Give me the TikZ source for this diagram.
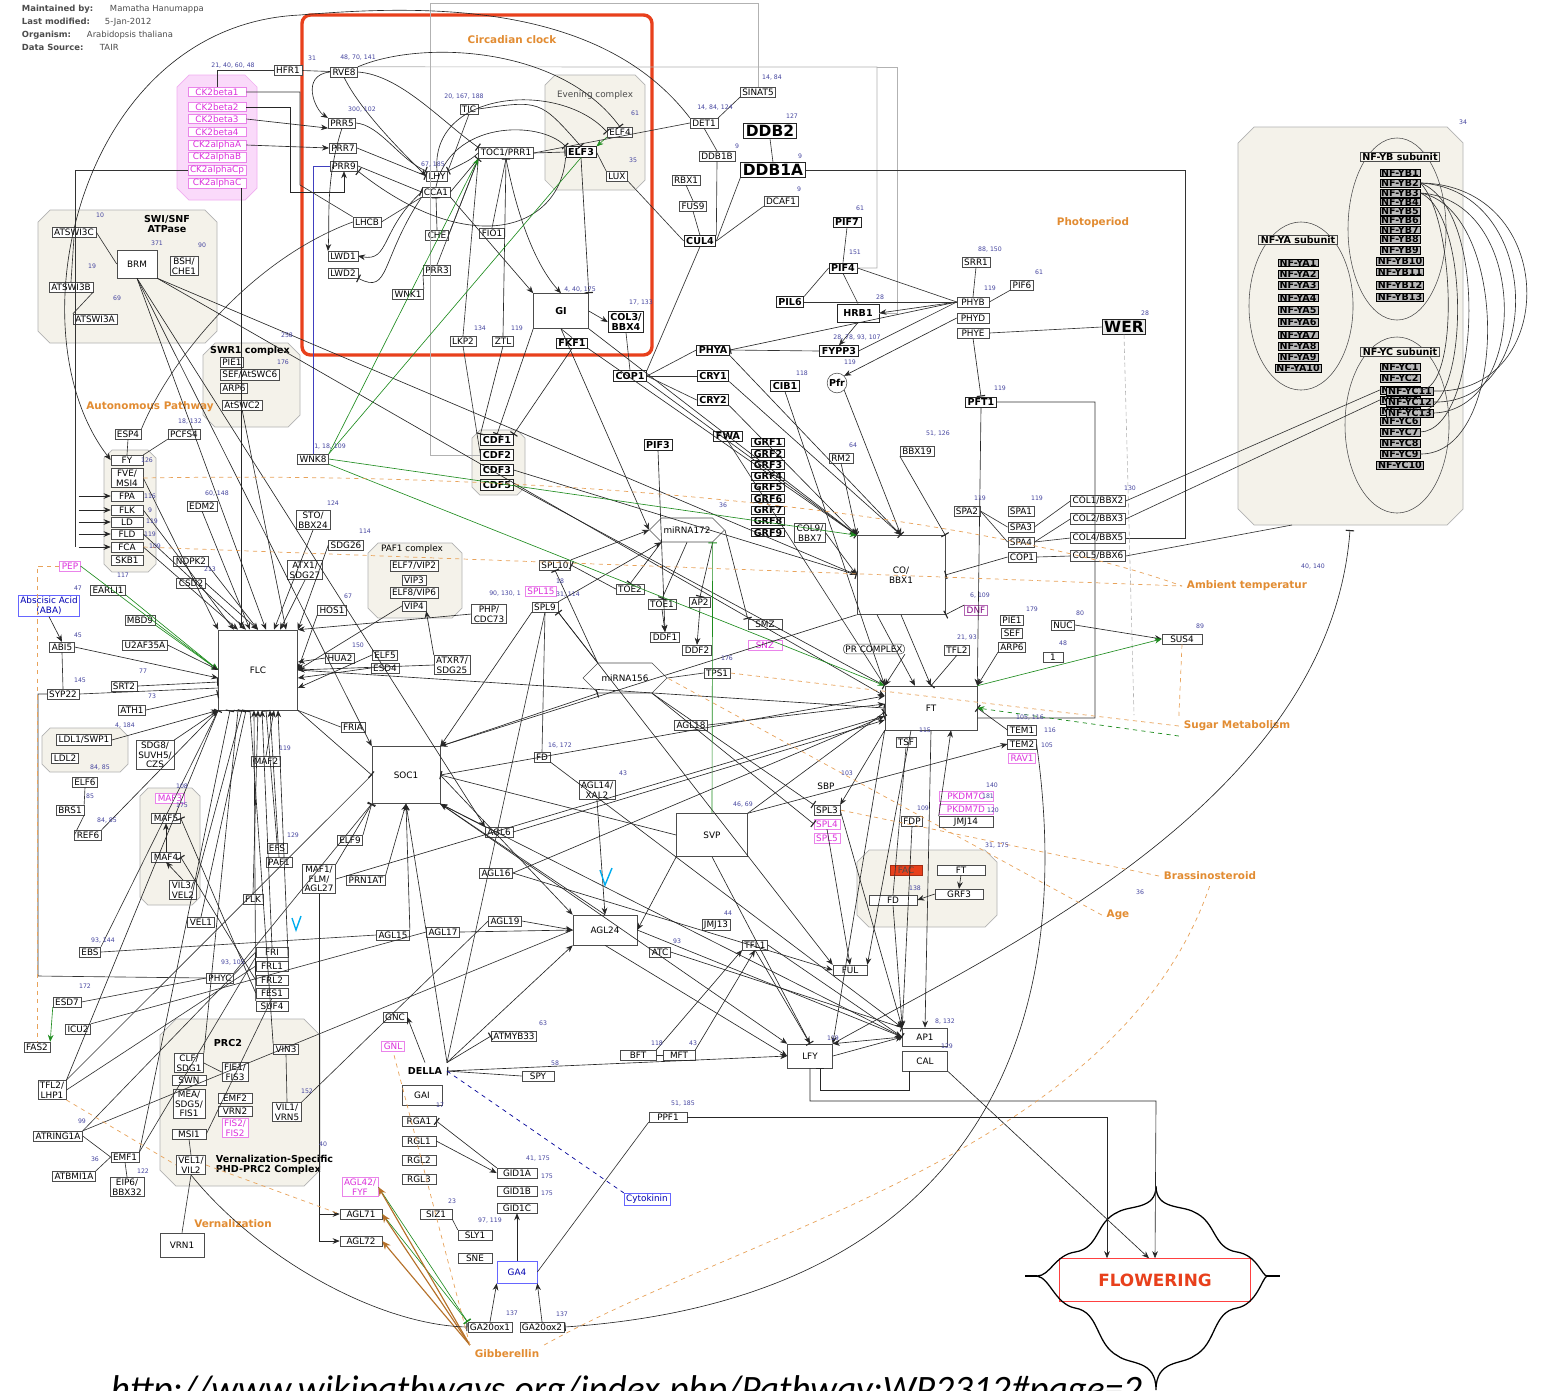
\documentclass[tikz,border=0pt]{standalone}
\usepackage{fontspec}
\setmainfont{DejaVu Sans}
\newfontfamily\urlfont{Carlito}
\usetikzlibrary{arrows.meta,shapes.geometric,shapes.symbols,shapes.misc,positioning}

\newcommand\genefont{\fontsize{6.3}{6.9}\selectfont}
\newcommand\boldgenefont{\fontsize{6.8}{7.4}\selectfont\bfseries}
\newcommand\largegenefont{\fontsize{11}{12}\selectfont\bfseries}
\newcommand\numfont{\fontsize{4.4}{5}\selectfont}
\newcommand\pathfont{\fontsize{7.4}{8}\selectfont\bfseries}

\definecolor{pathorange}{RGB}{226,140,50}
\definecolor{clockred}{RGB}{232,64,28}
\definecolor{grpfill}{RGB}{244,242,234}
\definecolor{pinktext}{RGB}{220,50,220}
\definecolor{pinkfill}{RGB}{250,218,250}
\definecolor{numblue}{RGB}{70,70,160}
\definecolor{darkgreen}{RGB}{30,140,30}

\tikzset{
  gene/.style={draw=black!70, fill=white, font=\genefont, align=center, inner xsep=1.5pt, inner ysep=1.1pt, line width=0.4pt},
  bgene/.style={gene, font=\boldgenefont, draw=black!85, line width=0.6pt},
  lgene/.style={gene, font=\largegenefont, draw=black!85, line width=0.6pt},
  pgene/.style={gene, draw=pinktext!60, text=pinktext},
  bugene/.style={gene, draw=blue!60, text=blue!70!black},
  nfy/.style={draw=black, fill=gray!55, font=\boldgenefont, inner xsep=1pt, inner ysep=0.2pt},
  num/.style={font=\numfont, text=numblue, inner sep=0pt},
  pathlbl/.style={font=\pathfont, text=pathorange},
  grptitle/.style={font=\boldgenefont, align=center},
  grp/.style={draw=gray!60, fill=grpfill, line width=0.5pt},
  act/.style={-{Stealth[length=5pt,width=4pt]}, black!85, line width=0.45pt},
  inh/.style={-{Bar[width=6pt,line width=0.8pt]}, black!85, line width=0.45pt},
  ln/.style={black!80, line width=0.45pt},
  gln/.style={gray!60, line width=0.5pt},
  gact/.style={act, darkgreen},
  ginh/.style={inh, darkgreen},
  gline/.style={darkgreen, line width=0.45pt},
  od/.style={pathorange!80, dashed, line width=0.5pt},
  oact/.style={-{Stealth[length=6pt,width=5pt]}, pathorange!80!black, line width=0.8pt},
  gdash/.style={-{Stealth[length=5pt,width=4pt]}, darkgreen, dashed, line width=0.5pt},
  bdash/.style={blue!60!black, dashed, line width=0.5pt},
}

\begin{document}
\begin{tikzpicture}[x=0.025cm, y=-0.025cm]
\useasboundingbox (0,0) rectangle (1562,1390);
\fill[white] (0,0) rectangle (1562,1390);

% group backgrounds
\draw[grp, fill=pinkfill, draw=pinktext!40] (189,75) -- (245,75) -- (257,87) -- (257,188) -- (245,200) -- (189,200) -- (177,188) -- (177,87) -- cycle;
\draw[grp] (50,210) -- (205,210) -- (217,222) -- (217,331) -- (205,343) -- (50,343) -- (38,331) -- (38,222) -- cycle;
\draw[grp] (215,343) -- (288,343) -- (300,355) -- (300,415) -- (288,427) -- (215,427) -- (203,415) -- (203,355) -- cycle;
\draw[grp] (112,450) -- (148,450) -- (156,458) -- (156,564) -- (148,572) -- (112,572) -- (104,564) -- (104,458) -- cycle;
\draw[grp] (555,75) -- (635,75) -- (645,85) -- (645,180) -- (635,190) -- (555,190) -- (545,180) -- (545,85) -- cycle;
\draw[grp] (480,430) -- (517,430) -- (525,438) -- (525,487) -- (517,495) -- (480,495) -- (472,487) -- (472,438) -- cycle;
\draw[grp] (378,543) -- (452,543) -- (462,553) -- (462,608) -- (452,618) -- (378,618) -- (368,608) -- (368,553) -- cycle;
\draw[grp] (1254,127) -- (1447,127) -- (1463,143) -- (1463,509) -- (1447,525) -- (1254,525) -- (1238,509) -- (1238,143) -- cycle;
\draw[grp] (176,1019) -- (304,1019) -- (320,1035) -- (320,1170) -- (304,1186) -- (176,1186) -- (160,1170) -- (160,1035) -- cycle;
\draw[grp] (869,850) -- (985,850) -- (997,862) -- (997,915) -- (985,927) -- (869,927) -- (857,915) -- (857,862) -- cycle;
\draw[grp] (148,788) -- (192,788) -- (200,796) -- (200,897) -- (192,905) -- (148,905) -- (140,897) -- (140,796) -- cycle;
\draw[grp] (50,728) -- (120,728) -- (128,736) -- (128,764) -- (120,772) -- (50,772) -- (42,764) -- (42,736) -- cycle;

\draw[clockred, line width=2.4pt, rounded corners=6pt] (302,15) rectangle (652,355);

% header
\node[anchor=west, font=\fontsize{6}{7}\selectfont, text=black!70] (hdra) at (17,9) {\makebox[2.2cm][l]{\textbf{Maintained by:}}Mamatha Hanumappa};
\node[anchor=west, font=\fontsize{6}{7}\selectfont, text=black!70] (hdrb) at (17,22) {\makebox[2.075cm][l]{\textbf{Last modified:}}5-Jan-2012};
\node[anchor=west, font=\fontsize{6}{7}\selectfont, text=black!70] (hdrc) at (17,35) {\makebox[1.625cm][l]{\textbf{Organism:}}Arabidopsis thaliana};
\node[anchor=west, font=\fontsize{6}{7}\selectfont, text=black!70] (hdrd) at (17,47) {\makebox[1.95cm][l]{\textbf{Data Source:}}TAIR};

% pathway labels
\node[pathlbl] (lblclock) at (512,40) {Circadian clock};
\node[pathlbl] (lblphoto) at (1093,223) {Photoperiod};
\node[pathlbl] (lblauto) at (150,407) {Autonomous Pathway};
\node[pathlbl, anchor=west] (lblamb) at (1182,586) {Ambient temperatur};
\node[pathlbl] (lblsugar) at (1237,726) {Sugar Metabolism};
\node[pathlbl] (lblbras) at (1210,876) {Brassinosteroid};
\node[pathlbl] (lblage) at (1118,915) {Age};
\node[pathlbl] (lblvern) at (233,1224) {Vernalization};
\node[pathlbl] (lblgib) at (507,1354) {Gibberellin};

% group titles
\node[grptitle] (tswi) at (167,224) {SWI/SNF\\ATPase};
\node[grptitle] (tswr) at (250,351) {SWR1 complex};
\node[font=\genefont, text=black!70] (teve) at (595,95) {Evening complex};
\node[font=\genefont] (tpaf) at (412,549) {PAF1 complex};
\node[grptitle] (tprc) at (228,1043) {PRC2};
\node[grptitle, align=left, anchor=west] (tvsp) at (211,1165) {Vernalization-Specific\\PHD-PRC2 Complex};
\node[font=\genefont] (tsbp) at (826,786) {SBP};

% circadian clock
\node[gene] (hfr1) at (288,70) {HFR1};
\node[gene] (rve8) at (344,72) {RVE8};
\node[gene] (prr5) at (342,123) {PRR5};
\node[gene] (prr7) at (343,148) {PRR7};
\node[gene] (prr9) at (344,166) {PRR9};
\node[gene] (lhcb) at (367,222) {LHCB};
\node[gene] (lwd1) at (343,256) {LWD1};
\node[gene] (lwd2) at (343,273) {LWD2};
\node[gene] (tic) at (469,109) {TIC};
\node[gene] (toc1) at (506,153) {TOC1/PRR1};
\node[bgene] (elf3) at (581,152) {ELF3};
\node[gene] (elf4) at (620,132) {ELF4};
\node[gene] (lux) at (617,176) {LUX};
\node[gene] (lhy) at (437,176) {LHY};
\node[gene] (cca1) at (436,192) {CCA1};
\node[gene] (che) at (437,235) {CHE};
\node[gene] (fio1) at (492,233) {FIO1};
\node[gene] (prr3) at (437,270) {PRR3};
\node[gene] (wnk1) at (408,294) {WNK1};
\node[gene, font=\boldgenefont, minimum width=1.375cm, minimum height=0.875cm] (gi) at (561,311) {GI};
\node[bgene] (col3) at (626,322) {COL3/\\BBX4};
\node[gene] (lkp2) at (463,341) {LKP2};
\node[gene] (ztl) at (503,341) {ZTL};
\node[bgene] (fkf1) at (572,343) {FKF1};
\node[bgene] (cop1) at (630,376) {COP1};

% CK2 and chromatin groups
\foreach \k/\t/\y in {b1/CK2beta1/92, b2/CK2beta2/107, b3/CK2beta3/119, b4/CK2beta4/132, aa/CK2alphaA/145, ab/CK2alphaB/157, acp/CK2alphaCp/170, ac/CK2alphaC/183}
  \node[pgene, minimum width=1.45cm, inner ysep=0.6pt] (ck2\k) at (217,\y) {\t};
\node[gene] (atswi3c) at (74,232) {ATSWI3C};
\node[gene, minimum width=1cm, minimum height=0.7cm] (brm) at (137,264) {BRM};
\node[gene] (bsh) at (184,266) {BSH/\\CHE1};
\node[gene] (atswi3b) at (71,287) {ATSWI3B};
\node[gene] (atswi3a) at (95,319) {ATSWI3A};
\node[gene, anchor=west] (pie1) at (220,362) {PIE1};
\node[gene, anchor=west] (sef) at (220,375) {SEF/AtSWC6};
\node[gene, anchor=west] (arp6) at (220,388) {ARP6};
\node[gene, anchor=west] (atswc2) at (222,405) {AtSWC2};

% autonomous pathway
\node[gene] (esp4) at (128,434) {ESP4};
\node[gene] (pcfs4) at (184,434) {PCFS4};
\node[gene] (wnk8) at (313,459) {WNK8};
\node[gene, minimum width=0.8cm] (fy) at (127,460) {FY};
\node[gene, minimum width=0.8cm] (fve) at (127,478) {FVE/\\MSI4};
\node[gene, minimum width=0.8cm] (fpa) at (127,496) {FPA};
\node[gene, minimum width=0.8cm] (flk) at (127,510) {FLK};
\node[gene, minimum width=0.8cm] (ld) at (127,522) {LD};
\node[gene, minimum width=0.8cm] (fld) at (127,534) {FLD};
\node[gene, minimum width=0.8cm] (fca) at (127,547) {FCA};
\node[gene, minimum width=0.8cm] (skb1) at (127,560) {SKB1};

% FLC regulators
\node[pgene] (pep) at (70,566) {PEP};
\node[bugene] (aba) at (49,606) {Abscisic Acid\\(ABA)};
\node[gene] (abi5) at (62,647) {ABI5};
\node[gene] (earli1) at (108,590) {EARLI1};
\node[gene] (edm2) at (202,506) {EDM2};
\node[gene] (sto) at (313,520) {STO/\\BBX24};
\node[gene] (sdg26) at (346,545) {SDG26};
\node[gene] (ndpk2) at (191,561) {NDPK2};
\node[gene] (csd2) at (191,583) {CSD2};
\node[gene] (atx1) at (305,570) {ATX1/\\SDG27};
\node[gene] (hos1) at (332,610) {HOS1};
\node[gene] (mbd9) at (140,620) {MBD9};
\node[gene] (u2af) at (145,645) {U2AF35A};
\node[gene, minimum width=1.975cm, minimum height=2cm] (flc) at (258,670) {FLC};
\node[gene] (srt2) at (124,686) {SRT2};
\node[gene] (ath1) at (132,710) {ATH1};
\node[gene] (syp22) at (63,694) {SYP22};
\node[gene] (ldl1) at (84,740) {LDL1/SWP1};
\node[gene] (ldl2) at (65,758) {LDL2};
\node[gene] (sdg8) at (155,755) {SDG8/\\SUVH5/\\CZS};
\node[gene] (elf6) at (85,782) {ELF6};
\node[gene] (brs1) at (70,810) {BRS1};
\node[gene] (ref6) at (88,835) {REF6};
\node[pgene] (maf3) at (170,798) {MAF3};
\node[gene] (maf5) at (166,818) {MAF5};
\node[gene] (maf4) at (166,857) {MAF4};
\node[gene] (vil3) at (183,890) {VIL3/\\VEL2};
\node[gene] (maf2) at (266,761) {MAF2};
\node[gene] (efs) at (277,848) {EFS};
\node[gene] (paf1) at (279,862) {PAF1};
\node[gene] (elf9) at (350,840) {ELF9};
\node[gene] (maf1) at (319,879) {MAF1/\\FLM/\\AGL27};
\node[gene] (prn1) at (366,880) {PRN1AT};
\node[gene] (flk2) at (253,899) {FLK};
\node[gene] (vel1) at (201,922) {VEL1};
\node[gene] (hua2) at (340,658) {HUA2};
\node[gene] (elf5) at (385,655) {ELF5};
\node[gene] (esd4) at (385,668) {ESD4};
\node[gene] (fria) at (353,727) {FRIA};
\node[gene] (elf7) at (414,566) {ELF7/VIP2};
\node[gene] (vip3) at (414,580) {VIP3};
\node[gene] (elf8) at (414,593) {ELF8/VIP6};
\node[gene] (vip4) at (414,606) {VIP4};
\node[gene] (atxr7) at (452,665) {ATXR7/\\SDG25};
\node[gene] (php) at (489,614) {PHP/\\CDC73};

% CDF and GRF
\node[bgene] (cdf1) at (497,440) {CDF1};
\node[bgene] (cdf2) at (497,455) {CDF2};
\node[bgene] (cdf3) at (497,470) {CDF3};
\node[bgene] (cdf5) at (497,485) {CDF5};
\foreach \i in {1,...,9}
  \node[bgene, inner ysep=0.3pt] (grf\i) at (768,{431+11.3*\i}) {GRF\i};

% light signalling
\node[gene] (det1) at (704,123) {DET1};
\node[gene] (sinat5) at (758,92) {SINAT5};
\node[gene] (ddb1b) at (717,156) {DDB1B};
\node[gene] (rbx1) at (686,180) {RBX1};
\node[gene] (fus9) at (693,206) {FUS9};
\node[bgene] (cul4) at (700,241) {CUL4};
\node[lgene] (ddb2) at (770,131) {DDB2};
\node[lgene] (ddb1a) at (773,170) {DDB1A};
\node[gene] (dcaf1) at (781,201) {DCAF1};
\node[bgene] (pif7) at (847,222) {PIF7};
\node[bgene] (pif4) at (843,268) {PIF4};
\node[bgene] (pil6) at (790,302) {PIL6};
\node[bgene, minimum width=1.05cm, minimum height=0.45cm] (hrb1) at (858,313) {HRB1};
\node[bgene] (fypp3) at (839,351) {FYPP3};
\node[gene, circle, font=\boldgenefont, inner sep=0.6pt] (pfr) at (837,383) {Pfr};
\node[bgene] (cib1) at (785,386) {CIB1};
\node[bgene] (phya) at (713,350) {PHYA};
\node[bgene] (cry1) at (713,376) {CRY1};
\node[bgene] (cry2) at (713,400) {CRY2};
\node[bgene] (fwa) at (728,436) {FWA};
\node[bgene] (pif3) at (658,445) {PIF3};
\node[gene] (srr1) at (976,262) {SRR1};
\node[gene] (pif6) at (1022,285) {PIF6};
\node[gene, minimum width=0.8cm] (phyb) at (973,302) {PHYB};
\node[gene, minimum width=0.8cm] (phyd) at (973,318) {PHYD};
\node[gene, minimum width=0.8cm] (phye) at (973,333) {PHYE};
\node[lgene, fill=gray!15] (wer) at (1124,327) {WER};
\node[bgene] (pft1) at (981,402) {PFT1};
\node[gene] (bbx19) at (917,451) {BBX19};
\node[gene] (rm2) at (841,458) {RM2};

% NF-Y
\node[draw=black!70, ellipse, minimum width=2.6cm, minimum height=4.2cm] (yaell) at (1301,306) {};
\node[draw=black!70, ellipse, minimum width=2.45cm, minimum height=4.55cm] (ybell) at (1397,229) {};
\node[draw=black!70, ellipse, minimum width=2.6cm, minimum height=4.4cm] (ycell) at (1397,425) {};
\node[gene, font=\boldgenefont, fill=grpfill, inner ysep=0.5pt] (ybt) at (1400,157) {NF-YB subunit};
\node[gene, font=\boldgenefont, fill=grpfill, inner ysep=0.5pt] (yat) at (1298,240) {NF-YA subunit};
\node[gene, font=\boldgenefont, fill=grpfill, inner ysep=0.5pt] (yct) at (1400,352) {NF-YC subunit};
\foreach \i/\y in {1/173,2/183,3/193,4/202,5/211,6/220,7/230,8/239,9/250,10/261,11/272,12/285,13/297}
  \node[nfy] (yb\i) at (1400,\y) {NF-YB\i};
\foreach \i/\y in {1/263,2/274,3/285,4/298,5/310,6/322,7/335,8/346,9/357,10/368}
  \node[nfy] (ya\i) at (1298,\y) {NF-YA\i};
\foreach \i/\y in {1/367,2/378,3/390,4/400,5/411,6/421,7/432,8/443,9/454,10/465}
  \node[nfy] (yc\i) at (1400,\y) {NF-YC\i};
\node[nfy] (yc11) at (1410,391) {NF-YC11};
\node[nfy] (yc12) at (1410,402) {NF-YC12};
\node[nfy] (yc13) at (1410,413) {NF-YC13};
\coordinate (nfybar) at (1350,530);
\coordinate (nfybl) at (1292,525);

% middle
\node[gene, signal, signal to=west and east, minimum width=1.85cm, minimum height=0.6cm] (mir172) at (687,530) {miRNA172};
\node[gene, signal, signal to=west and east, minimum width=2.1cm, minimum height=0.75cm] (mir156) at (625,678) {miRNA156};
\node[gene] (spl10) at (555,565) {SPL10};
\node[pgene] (spl15) at (541,591) {SPL15};
\node[gene] (spl9) at (545,607) {SPL9};
\node[gene] (toe2) at (630,589) {TOE2};
\node[gene] (toe1) at (662,604) {TOE1};
\node[gene] (ap2) at (700,602) {AP2};
\node[gene] (ddf1) at (665,637) {DDF1};
\node[gene] (ddf2) at (697,650) {DDF2};
\node[gene, minimum width=0.85cm] (smz) at (765,624) {SMZ};
\node[pgene, minimum width=0.85cm] (snz) at (765,645) {SNZ};
\node[gene] (tps1) at (717,673) {TPS1};
\node[gene] (agl18) at (691,725) {AGL18};
\node[gene] (fd1) at (542,757) {FD};
\node[gene] (agl14) at (597,790) {AGL14/\\XAL2};
\node[gene, minimum width=1.7cm, minimum height=1.425cm] (soc1) at (406,775) {SOC1};
\node[gene, minimum width=1.775cm, minimum height=1.075cm] (svp) at (712,835) {SVP};
\node[gene] (agl6) at (499,832) {AGL6};
\node[gene] (agl16) at (496,873) {AGL16};
\node[gene] (agl19) at (505,921) {AGL19};
\node[gene] (agl15) at (393,935) {AGL15};
\node[gene] (agl17) at (443,932) {AGL17};
\node[gene, minimum width=1.6cm, minimum height=0.75cm] (agl24) at (605,930) {AGL24};
\node[gene] (jmj13) at (716,925) {JMJ13};
\node[gene] (atc) at (660,952) {ATC};
\node[gene] (tfl1) at (755,945) {TFL1};

% CO / FT
\node[gene] (col9) at (810,533) {COL9/\\BBX7};
\node[gene, minimum width=2.2cm, minimum height=1.975cm] (co) at (901,575) {CO/\\BBX1};
\node[gene] (spa2) at (967,511) {SPA2};
\node[gene] (spa1) at (1021,511) {SPA1};
\node[gene] (spa3) at (1021,527) {SPA3};
\node[gene] (spa4) at (1021,542) {SPA4};
\node[gene] (cop1b) at (1022,557) {COP1};
\node[gene] (col1) at (1098,501) {COL1/BBX2};
\node[gene] (col2) at (1098,519) {COL2/BBX3};
\node[gene] (col4) at (1098,538) {COL4/BBX5};
\node[gene] (col5) at (1098,556) {COL5/BBX6};
\node[gene, draw=violet!60, text=violet] (dnf) at (976,610) {DNF};
\node[gene] (pie1b) at (1012,620) {PIE1};
\node[gene] (sefb) at (1012,633) {SEF};
\node[gene] (arp6b) at (1012,647) {ARP6};
\node[gene] (nuc) at (1063,625) {NUC};
\node[gene, minimum width=0.5cm] (one) at (1053,657) {1};
\node[gene, minimum width=1cm] (sus4) at (1182,639) {SUS4};
\node[gene, rounded corners=3pt] (prc) at (874,649) {PR COMPLEX};
\node[gene] (tfl2) at (957,650) {TFL2};
\node[gene, minimum width=2.3cm, minimum height=1.1cm] (ft) at (931,708) {FT};
\node[gene] (tsf) at (906,742) {TSF};
\node[gene] (tem1) at (1022,730) {TEM1};
\node[gene] (tem2) at (1022,744) {TEM2};
\node[pgene] (rav1) at (1022,758) {RAV1};
\node[gene] (spl3) at (827,810) {SPL3};
\node[pgene] (spl4) at (827,824) {SPL4};
\node[pgene] (spl5) at (827,838) {SPL5};
\node[gene] (fdp) at (912,821) {FDP};
\node[pgene, minimum width=1.35cm] (pkdm7c) at (966,796) {PKDM7C};
\node[pgene, minimum width=1.35cm] (pkdm7d) at (966,809) {PKDM7D};
\node[gene, minimum width=1.35cm] (jmj14) at (966,822) {JMJ14};
\node[gene, fill=clockred, draw=clockred!70!black, text=black!70, minimum width=0.8cm] (fac) at (906,870) {FAC};
\node[gene, minimum width=1.2cm] (ft2) at (961,870) {FT};
\node[gene, minimum width=1.2cm] (fd2) at (893,900) {FD};
\node[gene, minimum width=1.2cm] (grf3) at (959,894) {GRF3};

% bottom left
\node[gene] (ebs) at (90,952) {EBS};
\node[gene] (esd7) at (67,1002) {ESD7};
\node[gene] (icu2) at (78,1029) {ICU2};
\node[gene] (fas2) at (37,1047) {FAS2};
\node[gene] (tfl2b) at (52,1090) {TFL2/\\LHP1};
\node[gene] (atring) at (58,1136) {ATRING1A};
\node[gene] (atbmi) at (74,1176) {ATBMI1A};
\node[gene] (emf1) at (125,1157) {EMF1};
\node[gene] (eip6) at (127,1187) {EIP6/\\BBX32};
\node[gene, minimum width=0.8cm] (fri) at (272,952) {FRI};
\node[gene, minimum width=0.8cm] (frl1) at (272,966) {FRL1};
\node[gene, minimum width=0.8cm] (frl2) at (272,980) {FRL2};
\node[gene, minimum width=0.8cm] (fes1) at (272,993) {FES1};
\node[gene, minimum width=0.8cm] (suf4) at (272,1006) {SUF4};
\node[gene] (phyc) at (220,978) {PHYC};
\node[gene] (clf) at (189,1063) {CLF/\\SDG1};
\node[gene, minimum width=0.85cm] (swn) at (189,1080) {SWN};
\node[gene] (mea) at (189,1104) {MEA/\\SDG5/\\FIS1};
\node[gene, minimum width=0.85cm] (msi1) at (189,1134) {MSI1};
\node[gene] (fie) at (235,1072) {FIE1/\\FIS3};
\node[gene, minimum width=0.85cm] (emf2) at (235,1098) {EMF2};
\node[gene, minimum width=0.85cm] (vrn2) at (235,1111) {VRN2};
\node[pgene] (fis2) at (235,1128) {FIS2/\\FIS2};
\node[gene] (vin3) at (286,1049) {VIN3};
\node[gene] (vil1) at (287,1112) {VIL1/\\VRN5};
\node[gene] (vel1b) at (191,1165) {VEL1/\\VIL2};
\node[gene, minimum width=1.1cm, minimum height=0.6cm] (vrn1) at (182,1245) {VRN1};
\node[pgene] (agl42) at (360,1187) {AGL42/\\FYF};
\node[gene, minimum width=1.05cm] (agl71) at (361,1214) {AGL71};
\node[gene, minimum width=1.05cm] (agl72) at (361,1241) {AGL72};

% gibberellin
\node[gene] (gnc) at (395,1017) {GNC};
\node[pgene] (gnl) at (393,1046) {GNL};
\node[font=\boldgenefont] (della) at (425,1071) {DELLA};
\node[gene, minimum width=1cm, minimum height=0.5cm] (gai) at (422,1095) {GAI};
\node[gene, minimum width=0.85cm] (rga1) at (419,1121) {RGA1};
\node[gene, minimum width=0.85cm] (rgl1) at (419,1141) {RGL1};
\node[gene, minimum width=0.85cm] (rgl2) at (419,1160) {RGL2};
\node[gene, minimum width=0.85cm] (rgl3) at (419,1179) {RGL3};
\node[gene] (atmyb33) at (514,1036) {ATMYB33};
\node[gene, minimum width=0.8cm] (spy) at (538,1076) {SPY};
\node[gene, minimum width=0.9cm] (bft) at (638,1055) {BFT};
\node[gene, minimum width=0.8cm] (mft) at (679,1055) {MFT};
\node[gene, minimum width=0.95cm] (ppf1) at (668,1117) {PPF1};
\node[gene, minimum width=0.8cm] (siz1) at (436,1214) {SIZ1};
\node[gene, minimum width=1cm] (gid1a) at (517,1173) {GID1A};
\node[gene, minimum width=1cm] (gid1b) at (517,1191) {GID1B};
\node[gene, minimum width=1cm] (gid1c) at (517,1208) {GID1C};
\node[gene, minimum width=0.85cm] (sly1) at (475,1235) {SLY1};
\node[gene, minimum width=0.85cm] (sne) at (475,1258) {SNE};
\node[bugene, minimum width=1cm, minimum height=0.55cm] (ga4) at (517,1272) {GA4};
\node[gene] (ga20ox1) at (490,1327) {GA20ox1};
\node[gene] (ga20ox2) at (542,1327) {GA20ox2};
\node[bugene] (cytokinin) at (647,1199) {Cytokinin};

% floral meristem
\node[gene, minimum width=0.85cm] (ful) at (850,970) {FUL};
\node[gene, minimum width=1.125cm, minimum height=0.45cm] (ap1) at (925,1037) {AP1};
\node[gene, minimum width=1.125cm, minimum height=0.5cm] (cal) at (925,1061) {CAL};
\node[gene, minimum width=1.125cm, minimum height=0.6cm] (lfy) at (810,1056) {LFY};
\node[draw=red!75, font=\fontsize{12}{13}\selectfont\bfseries, text=clockred, minimum width=4.775cm, minimum height=1.075cm] (flowering) at (1155,1280) {FLOWERING};
\draw[black, line width=0.9pt]
 (1156,1186) .. controls (1156,1210) and (1130,1205) .. (1118,1212) .. controls (1095,1222) and (1100,1248) .. (1075,1252) .. controls (1055,1255) and (1050,1276) .. (1037,1276)
 .. controls (1050,1278) and (1055,1304) .. (1075,1308) .. controls (1100,1312) and (1095,1344) .. (1118,1356) .. controls (1130,1365) and (1156,1359) .. (1156,1390)
 (1156,1390) .. controls (1156,1359) and (1182,1365) .. (1194,1356) .. controls (1217,1344) and (1212,1312) .. (1237,1308) .. controls (1257,1304) and (1262,1278) .. (1267,1276)
 .. controls (1262,1276) and (1257,1255) .. (1237,1252) .. controls (1212,1248) and (1217,1222) .. (1194,1212) .. controls (1182,1205) and (1156,1210) .. (1156,1186);
\draw[black, line width=0.9pt] (1025,1276) -- (1037,1276) (1267,1276) -- (1280,1276);

% grey frame lines
\draw[gln] (cdf2.west) -| (430,3) -| (sinat5.north);
\draw[gln] (rve8.north east) -- (877,67) |- (pif4.east);
\draw[gln] (hrb1.east) -| (897,67) -- (877,67);
\draw[ln] (ddb1a.east) -- (1185,170) |- (col4.east);
\draw[ln] (pft1.east) -| (1095,718) -- ([yshift=-0.25cm]ft.east);
\draw[gray!60, densely dashed] (wer.south) -- (1134,715);
\draw[blue!50!gray, line width=0.5pt] (prr9.west) -| (wnk8.north);
\draw[ln] (syp22.west) -| (38,976) -- (phyc.west);
\draw[ln] (ck2acp.west) -- (75,170) -- (75,547);

% circadian edges
\draw[ln] (hfr1) -- (rve8);
\draw[ln] (ck2b1.north) |- (hfr1.west);
\draw[act] (rve8.west) .. controls (300,75) and (315,110) .. (prr5.north west);
\draw[inh] (rve8.east) .. controls (400,75) and (440,120) .. (toc1.north west);
\draw[inh] (rve8.north east) .. controls (420,40) and (560,45) .. (elf4.north);
\draw[act] (rve8.south) .. controls (360,110) and (400,150) .. (lhy.west);
\draw[inh] (prr5.east) .. controls (380,125) and (400,160) .. (lhy.north west);
\draw[inh] (prr7.east) -- (lhy.west);
\draw[inh] (prr9.east) -- (cca1.west);
\draw[inh] (cca1.east) -- (toc1.south west);
\draw[inh] (toc1.west) .. controls (470,160) .. (lhy.north east);
\draw[inh] (lhy.north) .. controls (430,90) and (560,80) .. (elf4.west);
\draw[inh] (cca1.north) .. controls (450,120) and (540,120) .. (elf3.north west);
\draw[inh] (toc1.east) -- (elf3.west);
\draw[gact] (elf4.south west) -- (elf3.north east);
\draw[ln] (elf3.east) -- (lux.north west);
\draw[inh] (elf3.south) -- (gi.north east);
\draw[inh] (elf3.south west) .. controls (560,230) and (470,260) .. (prr9.south east);
\draw[act] (cca1.south east) -- (gi.north west);
\draw[act] (toc1.south) .. controls (520,230) and (540,270) .. (gi.north);
\draw[inh] (ztl.north) -- (toc1.south);
\draw[ln] (lkp2.north) -- (toc1.south west);
\draw[inh] (che.north) -- (cca1.south);
\draw[ln] (che.east) -- (toc1.south west);
\draw[act] (prr5.south) .. controls (325,180) and (330,220) .. (lwd1.north west);
\draw[inh] (cca1.south west) .. controls (380,260) and (390,295) .. (lwd2.south east);
\draw[act] (cca1.west) .. controls (380,230) and (390,262) .. (lwd1.east);
\draw[ln] (lhcb.east) -- (cca1.south west);
\draw[ln] (prr3.north) -- (toc1.south west);
\draw[ln] (wnk1.north east) -- (prr3.south west);
\draw[ln] (fio1.north) -- (toc1.south);
\draw[ln] (tic.south) -- (lhy.north east);
\draw[inh] (tic.east) .. controls (540,100) .. (elf3.north);
\draw[act] (gi.east) -- (col3.west);
\draw[ln] (gi.south) -- (fkf1.north);
\draw[act] (ck2b2.east) -| (290,192) -| (prr9.south);
\draw[act] (ck2aa.east) -- (prr7.west);
\draw[act] (ck2b3.east) -- (prr5.south west);
\draw[ln] (ck2b1.east) -| (300,185) -- (lhcb.north west);
\draw[act] (ck2ac.south) ++(24,0) -- ++(0,440);
\draw[act] (det1.north west) .. controls (600,0) and (420,5) .. (300,15) .. controls (80,25) and (10,330) .. (fy.west);
\draw[ln] (lhcb.west) .. controls (250,260) and (170,360) .. (esp4.north east);

% photoperiod edges
\draw[inh] (fkf1.south) -- (cdf1.north east);
\draw[inh] (gi.south west) -- (cdf1.north);
\draw[inh] (ztl.south) -- (cdf1.north west);
\draw[ln] (lkp2.south) -- (cdf2.west);
\draw[act] (fkf1.south east) -- (co.north west);
\draw[act] (gi.south east) -- (co.north west);
\draw[ln] (col3.south) -- (cop1.north);
\draw[inh] (cop1.south east) -- (co.north west);
\draw[inh] (cdf3.east) -- (co.west);
\draw[inh] (cdf5.east) -- (ft.north west);
\draw[act] (gi.south) -- (mir172.west);
\draw[inh] (phya.south east) -- (co.north);
\draw[act] (cry1.south east) -- (co.north);
\draw[act] (cry2.south east) -- (co.north west);
\draw[ln] (fwa.south) -- (ft.north west);
\draw[inh] (phyb.west) -- (phya.east);
\draw[ln] (cop1.east) -- (cry1.west);
\draw[ln] (cop1.east) -- (cry2.west);
\draw[ln] (cop1.east) -- (phya.west);
\draw[act] (pif3.south) -- (ddf1.north);
\draw[ln] (pif7.south) -- (pif4.north);
\draw[ln] (pif4.west) -- (pil6.north east);
\draw[ln] (pif4.south) -- (hrb1.north);
\draw[ln] (pif4.east) -- (phyb.west);
\draw[act] (phyb.west) -- (hrb1.east);
\draw[ln] (phyb.west) -- (pil6.east);
\draw[act] (phyd.west) -- (pfr.north east);
\draw[ln] (phyb.west) -- (fypp3.east);
\draw[act] (hrb1.south) -- (fypp3.north);
\draw[ln] (srr1.south) -- (phyb.north);
\draw[ln] (pif6.south west) -- (phyb.east);
\draw[ln] (phye.east) -- (wer.west);
\draw[inh] (phye.south) -- (pft1.north);
\draw[act] (pft1.south) -- (ft.north east);
\draw[ln] (phya.east) -- (fypp3.west);
\draw[act] (cib1.south) -- (ft.north west);
\draw[act] (pfr.south east) -- (co.north);
\draw[act] (rm2.south) -- (co.north west);
\draw[inh] (bbx19.south west) -- (co.north east);
\draw[ln] (sinat5.south west) -- (det1.north east);
\draw[ln] (det1.south) -- (ddb1b.north);
\draw[ln] (ddb1b.south) -- (cul4.north east);
\draw[ln] (rbx1.south) -- (fus9.north);
\draw[ln] (fus9.south) -- (cul4.north);
\draw[ln] (ddb1a.south west) -- (cul4.east);
\draw[ln] (dcaf1.south west) -- (cul4.east);
\draw[ln] (ddb2.south) -- (ddb1a.north);
\draw[ln] (det1.west) -- (toc1.east);
\draw[ln] (cul4.south) -- (cop1.north east);
\draw[ln] (cul4.west) -- (lux.south east);

% CO / FT edges
\draw[act] (col9.east) -- (co.west);
\draw[inh] (cop1b.west) -- (co.east);
\draw[ln] (spa2.east) -- (spa3.west);
\draw[ln] (spa2.east) -- (spa4.west);
\draw[ln] (col1.west) -- (spa3.east);
\draw[ln] (col2.west) -- (spa4.east);
\draw[ln] (col4.west) -- (spa4.east);
\draw[ln] (col5.west) -- (cop1b.east);
\draw[act] (co.south) -- (ft.north);
\draw[act] ([xshift=-0.6cm]co.south) -- ([xshift=-0.4cm]ft.north);
\draw[act] (co.south west) -- (soc1.north east);
\draw[inh] (dnf.north west) -- (co.south east);
\draw[act] (arp6b.south west) -- (ft.north east);
\draw[act] (nuc.east) -- (sus4.west);
\draw[gact] (ft.north east) -- (sus4.west);
\draw[act] (prc.south east) -- (ft.north west);
\draw[inh] (tfl2.south) -- (ft.north);
\draw[inh] (tem1.west) -- (ft.east);
\draw[act] (svp.north east) -- (tem2.west);
\draw[act] (ft.south west) -- (spl3.north east);
\draw[act] (ft.south) -- (ap1.north);
\draw[act] ([xshift=-0.5cm]ft.south) -- (ful.north east);
\draw[act] (ft.south west) -- (lfy.north east);
\draw[act] (fdp.south) -- (ap1.north west);
\draw[act] (jmj14.north west) -- ([xshift=0.5cm]ft.south);
\draw[ln] (tsf.south) -- (fd2.north);
\draw[act] (ft2.south) -- (grf3.north);
\draw[act] (grf3.west) -- (fd2.east);
\draw[act] (fd2.south) -- (ap1.north west);
\draw[act] (spl3.east) -- (ap1.north west);
\draw[act] (spl4.south) -- (ful.north);
\draw[ln] (yc3.west) -- (col1.east);
\draw[ln] (yc4.west) -- (col2.east);
\draw[ln] (col5.east) -- (nfybl);
\draw[ln] (yb2.east) .. controls (1560,185) and (1560,395) .. (yc11.east);
\draw[ln] (yb2.east) .. controls (1545,190) and (1545,405) .. (yc12.east);
\draw[ln] (yb3.east) .. controls (1530,200) and (1530,410) .. (yc13.east);
\draw[ln] (yb3.east) .. controls (1510,210) and (1510,455) .. (yc9.east);
\draw[ln] (yb2.east) .. controls (1490,210) and (1480,430) .. (yc7.east);
\draw[ln] (yb3.east) .. controls (1470,215) and (1470,410) .. (yc5.east);
\draw[ln] (yb2.east) .. controls (1455,220) and (1460,390) .. (yc3.east);
\draw[inh] (lfy.north east) .. controls (1000,950) and (1330,800) .. (nfybar);
\draw[inh] (tem2.east) .. controls (1080,1050) and (960,1300) .. (ga20ox2.east);

% miRNA edges
\draw[inh] (mir172.south west) -- (toe2.north);
\draw[inh] (mir172.south) -- (toe1.north);
\draw[inh] (mir172.south east) -- (ap2.north);
\draw[inh] (mir172.east) -- (smz.north west);
\draw[act] (spl9.north east) -- (mir172.south west);
\draw[act] (spl10.north east) -- (mir172.west);
\draw[act] (ap2.south) -- (ddf2.north);
\draw[act] (toe1.south) -- (ddf1.north);
\draw[inh] (soc1.north east) -- (mir156.south west);
\draw[inh] (mir156.north west) -- (spl10.south);
\draw[inh] (mir156.north west) -- (spl9.south east);
\draw[inh] (mir156.south east) -- (spl3.north west);
\draw[inh] (mir156.south east) -- (spl4.west);
\draw[ln] (tps1.west) -- (mir156.east);
\draw[inh] (toe2.west) -- (spl10.east);
\draw[ln] (spl9.south) -- (fd1.north);
\draw[act] (spl9.south west) -- (soc1.north east);
\draw[act] (spl9.south east) -- (ful.north west);
\draw[act] (php.west) -- (flc.north east);
\draw[act] (atxr7.west) -- (flc.east);
\draw[act] (vip4.west) -- (flc.east);
\draw[act] (atxr7.north west) -- (vip4.south east);

% FLC edges
\foreach \n in {fpa,flk,ld,fld,fca} \draw[act] (\n.west) ++(-32,0) -- (\n.west);
\draw[act] (fve.east) -- (flc.north west);
\draw[act] (fca.east) -- ([xshift=-0.5cm]flc.north);
\draw[act] (fld.east) -- ([xshift=-0.3cm]flc.north);
\draw[act] (flk.east) -- ([xshift=-0.6cm]flc.north);
\draw[act] (edm2.south) -- ([xshift=-0.2cm]flc.north);
\draw[act] (ndpk2.south east) -- (flc.north);
\draw[act] (csd2.east) -- (flc.north);
\draw[act] (sto.south) -- ([xshift=0.4cm]flc.north);
\draw[act] (atx1.south) -- ([xshift=0.55cm]flc.north);
\draw[act] (brm.south) -- ([xshift=0.2cm]flc.north);
\draw[act] (brm.south) -- (soc1.north west);
\draw[act] (brm.south) -- (agl6.north west);
\draw[act] (brm.south east) -- (co.west);
\draw[act] (brm.south east) -- ([yshift=0.3cm]ft.west);
\draw[ln] (atswi3c.east) -- (brm.west);
\draw[ln] (atswi3c.south) -- (atswi3b.north);
\draw[ln] (atswi3b.south east) -- (atswi3a.north west);
\draw[act] (atswc2.south) -- ([xshift=0.7cm]flc.north);
\draw[ln] (esp4.south) -- (fy.north);
\draw[ln] (pcfs4.south west) -- (fy.north east);
\draw[act] (sdg26.west) -- (flc.north east);
\draw[act] (hos1.south west) -- (flc.east);
\draw[act] (hua2.west) -- ([yshift=0.2cm]flc.east);
\draw[act] (esd4.west) -- ([yshift=-0.2cm]flc.east);
\draw[act] (elf5.west) -- ([yshift=-0.45cm]flc.east);
\draw[ln] (fria.west) -- (flc.south east);
\draw[gact] (earli1.south east) -- (flc.west);
\draw[gact] (mbd9.south east) -- (flc.west);
\draw[gact] (pep.east) -- (flc.west);
\draw[act] (u2af.east) -- (flc.west);
\draw[act] (abi5.east) -- ([yshift=-0.2cm]flc.west);
\draw[act] (aba.south) -- (abi5.north);
\draw[inh] (srt2.east) -- ([yshift=-0.3cm]flc.west);
\draw[inh] (ath1.east) -- ([yshift=-0.6cm]flc.west);
\draw[ln] (syp22.east) -- ([yshift=-0.45cm]flc.west);
\draw[act] (ldl1.east) -- (flc.south west);
\draw[act] (sdg8.north east) -- (flc.south west);
\draw[act] (ref6.north east) -- (flc.south west);
\draw[ln] (elf6.south) -- (brs1.north east);
\draw[ln] (brs1.south east) -- (ref6.west);
\draw[ln] (abi5.south) -- (syp22.north);
\draw[act] (maf2.north) -- ([xshift=0.4cm]flc.south);
\draw[inh] (efs.north) -- ([xshift=0.2cm]flc.south);
\draw[act] (paf1.north) -- ([xshift=0.3cm]flc.south);
\draw[act] (flk2.north) -- (flc.south);
\draw[inh] (vel1.north) -- ([xshift=-0.3cm]flc.south);
\draw[inh] (vil3.north east) -- ([xshift=-0.4cm]flc.south);
\draw[act] (fri.north) -- ([xshift=0.1cm]flc.south);
\draw[act] (frl1.north east) -- ([xshift=0.5cm]flc.south);
\draw[act] (suf4.north west) -- ([xshift=-0.1cm]flc.south);
\draw[inh] (vin3.north west) -- ([xshift=-0.2cm]flc.south);
\draw[inh] (clf.north east) -- ([xshift=-0.5cm]flc.south);
\draw[inh] (emf1.north east) -- ([xshift=-0.7cm]flc.south);
\draw[inh] (tfl2b.north east) -- (flc.south west);
\draw[act] (maf4.north) -- (maf5.south);
\draw[act] (vil3.north) -- (maf4.south);
\draw[inh] (frl2.west) -- (maf4.east);
\draw[inh] (fes1.west) -- (maf5.east);
\draw[inh] (flc.east) -- (ft.west);
\draw[inh] (flc.south east) -- (soc1.west);
\draw[inh] (maf1.north east) -- (soc1.south west);
\draw[inh] (maf1.east) -- ([yshift=-0.2cm]ft.west);
\draw[inh] (elf9.north east) -- (soc1.south west);
\draw[act] (prn1.north east) -- (soc1.south);

% SOC1 / AGL24 / meristem edges
\draw[act] (soc1.east) -- (agl24.north west);
\draw[act] (agl24.north) -- (soc1.south east);
\draw[act] (soc1.south east) -- (lfy.north west);
\draw[act] (soc1.east) -- ([yshift=0.3cm]ft.west);
\draw[inh] (svp.west) -- (soc1.east);
\draw[inh] (svp.north east) -- ([yshift=-0.1cm]ft.west);
\draw[act] (svp.south west) -- (agl24.east);
\draw[ginh] (svp.north) -- (mir172.south east);
\draw[act] (agl6.north west) -- (soc1.south east);
\draw[act] (agl19.east) -- (agl24.west);
\draw[act] (agl17.east) -- (agl24.west);
\draw[act] (agl15.north east) -- (soc1.south);
\draw[act] (agl16.east) -- ([yshift=-0.2cm]ft.west);
\draw[act] (agl6.east) -- ([yshift=-0.3cm]ft.west);
\draw[act] (agl18.east) -- ([yshift=0.1cm]ft.west);
\draw[act] (agl14.south) -- (agl24.north);
\draw[act] (agl24.south) -- (lfy.west);
\draw[act] (agl24.east) -- (ap1.west);
\draw[act] (svp.south) -- (lfy.north);
\draw[inh] (tfl1.east) -- (ap1.west);
\draw[inh] (tfl1.south) -- (lfy.north);
\draw[inh] (atc.east) -- (ap1.north west);
\draw[act] (bft.north east) -- (tfl1.south west);
\draw[act] (mft.north east) -- (tfl1.south);
\draw[ln] (bft.east) -- (mft.west);
\draw[act] (della.east) -- (lfy.west);
\draw[inh] (spy.west) -- (della.east);
\draw[inh] (della.north east) -- (atmyb33.west);
\draw[act] (della.north east) -- (soc1.south);
\draw[act] (della.north east) -- (agl24.south west);
\draw[act] (della.north) -- (gnc.east);
\draw[ln] (della.north east) -- (spl9.south);
\draw[bdash] (della.east) -- (cytokinin.north west);
\draw[act] (rgl1.east) -- (gid1a.west);
\draw[inh] (gid1a.north west) -- (rga1.east);
\draw[act] (ga4.north) -- (gid1c.south);
\draw[act] (ga20ox1.north) -- (ga4.south west);
\draw[act] (ga20ox2.north) -- (ga4.south east);
\draw[ln] (ppf1.south west) -- (ga4.east);
\draw[ln] (sly1.north west) -- (siz1.south east);
\draw[ginh] (agl42.east) -- (ga20ox1.north west);
\draw[ginh] (agl71.east) -- (ga20ox1.north west);
\foreach \n in {agl42,agl71,agl72} \draw[oact] (lblgib.north west) -- (\n.east);
\draw[act] (maf1.south) |- (agl71.west);
\draw[act] (maf1.south) |- (agl72.west);
\draw[inh] (vel1b.south) .. controls (260,1260) and (380,1325) .. (ga20ox1.west);
\draw[act] (soc1.south east) -- (ap1.west);
\draw[act] (agl16.east) -- (ful.west);
\draw[act] (fd1.south east) -- (ap1.north west);
\draw[act] (lfy.east) -- (ap1.west);
\draw[act] (ap1.west) -- (lfy.north east);

% flowering
\draw[act] (lfy.south) |- (1156,1101) -- (flowering.north);
\draw[act] (ppf1.east) -| ([xshift=-1.2cm]flowering.north);
\draw[act] (cal.south east) -- ([xshift=-0.15cm]flowering.north);
\draw[inh] ([xshift=-0.4cm]cal.south) |- ([xshift=0.25cm,yshift=-0.55cm]lfy.south) -- ([xshift=0.25cm]lfy.south);

% bottom-left edges
\draw[gact] (esd7.south west) -- (fas2.north east);
\draw[ln] (fie.west) -- (clf.east);
\draw[ln] (msi1.south) -- (vel1b.north);
\draw[ln] (vin3.south) -- (vil1.north);
\draw[ln] (vel1b.south) -- (vrn1.north);
\draw[ln] (emf1.south) -- (eip6.north);
\draw[ln] (atring.east) -- (emf1.west);
\draw[ln] (atbmi.north east) -- (emf1.west);
\draw[ln] (atring.north east) -- (fri.west);
\draw[ln] (emf1.north east) -- (fri.south west);
\draw[ln] (tfl2b.east) -- (frl1.west);
\draw[ln] (ebs.north east) -- (flc.south west);
\draw[ln] (ebs.east) -- (agl15.west);
\draw[ln] (icu2.north east) -- (agl17.west);
\draw[ln] (tfl2b.north east) -- (soc1.west);
\draw[ln] (atring.north east) -- (agl24.west);
\draw[ln] (esd7.east) -- (phyc.west);
\draw[ln] (phyc.north east) -- (soc1.south west);
\draw[ln] (msi1.east) -- (fes1.south);
\draw[ln] (vil1.north east) -- (agl19.west);

% green links
\draw[gact] (wnk8.north east) -- (toc1.south west);
\draw[gline] (wnk8.north east) -- (elf3.south);
\draw[gact] (wnk8.east) -- (co.north west);
\draw[gact] (wnk8.south east) -- (ft.north west);

% orange pathway links
\draw[od] (fve.east) .. controls (600,470) and (1000,520) .. (lblamb.west);
\draw[od] (fca.east) -- (lblamb.west);
\draw[od] (lblsugar.west) -- (tps1.east);
\draw[od] (lblsugar.north west) -- (sus4.south);
\draw[gdash] ([yshift=-0.25cm]lblsugar.west) -- (ft.east);
\draw[od] (lblage.west) -- (mir156.east);
\draw[od] (lblbras.west) -- (spl3.east);
\draw[od] (lblgib.north east) .. controls (750,1230) and (1120,1150) .. (lblbras.south);
\draw[od] (lblgib.north west) -- (gnl.south);
\draw[od] (vel1b.east) -- (agl71.west);
\draw[od] (tfl2b.south east) -- (vel1b.west);
\draw[od] (pep.west) -| (fas2.north);

% cyan marks
\draw[cyan, line width=1pt] (600,870) -- (605,885) -- (612,868);
\draw[cyan, line width=1pt] (292,918) -- (296,930) -- (301,916);

% reference numbers
\foreach \x/\y/\t [count=\k] in {233/66/{21, 40, 60, 48}, 312/58/31, 358/58/{48, 70, 141}, 362/110/{300, 102}, 464/97/{20, 167, 188}, 433/165/{67, 185}, 635/113/61, 633/160/35, 580/290/{4, 40, 175}, 641/303/{17, 133}, 480/328/134, 517/328/119, 715/108/{14, 84, 124}, 772/78/{14, 84}, 792/116/127, 737/146/9, 800/156/9, 799/189/9, 860/208/61, 855/252/151, 880/297/28, 857/338/{28, 78, 93, 107}, 850/362/119, 990/250/{88, 150}, 1039/272/61, 990/288/119, 1145/313/28, 1000/388/119, 938/434/{51, 126}, 853/445/64, 802/373/118, 1463/122/34, 100/215/10, 157/243/371, 202/245/90, 92/266/19, 117/298/69, 287/335/258, 283/362/176, 190/422/{18, 132}, 330/447/{1, 18, 109}, 147/460/126, 150/496/116, 150/510/9, 152/521/119, 150/534/119, 155/546/109, 123/575/117, 78/588/47, 78/635/45, 217/494/{60, 148}, 333/503/124, 365/531/114, 210/569/213, 348/596/67, 358/645/150, 80/680/145, 143/671/77, 152/696/73, 125/726/{4, 184}, 100/768/{84, 85}, 90/796/85, 107/821/{84, 85}, 182/786/108, 182/805/175, 285/748/119, 293/835/129, 560/581/18, 505/594/{90, 130, 1}, 568/595/{31, 114}, 727/658/176, 723/505/36, 560/746/{16, 172}, 623/773/43, 743/805/{46, 69}, 728/913/44, 677/941/93, 945/1022/{8, 132}, 833/1038/119, 947/1046/129, 925/730/115, 1030/718/{105, 116}, 1050/730/116, 1047/745/105, 992/785/140, 988/796/181, 993/810/120, 923/808/109, 997/846/{31, 175}, 915/888/138, 1140/892/36, 980/596/{6, 109}, 1032/609/179, 1080/613/80, 1063/643/48, 1200/626/89, 1313/567/{40, 140}, 1130/488/130, 980/498/119, 1037/498/119, 967/638/{21, 93}, 847/773/103, 103/941/{93, 144}, 85/986/172, 82/1121/99, 95/1159/36, 143/1171/122, 233/963/{93, 105}, 307/1091/152, 323/1144/40, 543/1023/63, 657/1043/118, 693/1043/43, 555/1063/58, 440/1105/17, 683/1104/{51, 185}, 538/1159/{41, 175}, 547/1176/175, 547/1193/175, 452/1201/23, 490/1221/{97, 119}, 512/1313/137, 562/1314/137}
  \node[num] (num\k) at (\x,\y) {\t};

% source link
\node[anchor=base west, font=\urlfont\itshape\fontsize{26.5}{29}\selectfont] (url) at (106,1401) {http://www.wikipathways.org/index.php/Pathway:WP2312\#page=2};
\end{tikzpicture}
\end{document}
